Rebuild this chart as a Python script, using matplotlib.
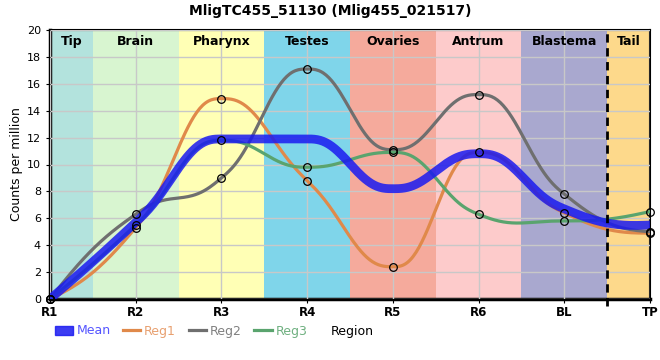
import numpy as np
import matplotlib
matplotlib.use("Agg")
import matplotlib.pyplot as plt
from matplotlib.lines import Line2D
from matplotlib.patches import Patch

title = "MligTC455_51130 (Mlig455_021517)"
regions = ["R1", "R2", "R3", "R4", "R5", "R6", "BL", "TP"]
mean = [0.0, 5.7, 11.9, 11.9, 8.2, 10.8, 6.7, 5.5]
reg1 = [0.0, 5.3, 14.9, 8.8, 2.4, 10.9, 6.4, 4.9]
reg2 = [0.0, 6.3, 9.0, 17.1, 11.1, 15.2, 7.8, 5.0]
reg3 = [0.0, 5.5, 11.8, 9.8, 10.9, 6.3, 5.8, 6.5]

bands = ["Tip", "Brain", "Pharynx", "Testes", "Ovaries", "Antrum", "Blastema", "Tail"]
band_edges = [0, 0.5, 1.5, 2.5, 3.5, 4.5, 5.5, 6.5, 7]
band_colors = ["#b3e3dd", "#d8f5d0", "#ffffb5", "#7fd5ea",
               "#f5aa9c", "#fdcbcb", "#a9a8cf", "#fdd98b"]


def smooth(y, n=60):
    # quintic hermite through the points, flat at extrema
    y = np.asarray(y, float)
    k = len(y)
    m = np.zeros(k)
    for i in range(1, k - 1):
        d1 = y[i] - y[i - 1]
        d2 = y[i + 1] - y[i]
        if d1 * d2 > 0:
            m[i] = (y[i + 1] - y[i - 1]) / 2
    m[0] = 2 * (y[1] - y[0]) - m[1]
    m[-1] = 2 * (y[-1] - y[-2]) - m[-2]
    xs, ys = [], []
    t = np.linspace(0, 1, n)
    h0 = 1 - 10 * t**3 + 15 * t**4 - 6 * t**5
    h1 = t - 6 * t**3 + 8 * t**4 - 3 * t**5
    h3 = -4 * t**3 + 7 * t**4 - 3 * t**5
    for i in range(k - 1):
        seg = h0 * y[i] + (1 - h0) * y[i + 1] + h1 * m[i] + h3 * m[i + 1]
        xs.extend(i + t)
        ys.extend(seg)
    return np.array(xs), np.array(ys)


fig = plt.figure(figsize=(6.6, 3.6), dpi=100)
ax = fig.add_axes([50 / 660, 1 - 299 / 360, 600 / 660, 269 / 360])

for i, name in enumerate(bands):
    ax.axvspan(band_edges[i], band_edges[i + 1], color=band_colors[i], zorder=0, lw=0)
    ax.text((band_edges[i] + band_edges[i + 1]) / 2, 19.6, name, ha="center", va="top",
            fontsize=9, fontweight="bold", zorder=5)

ax.grid(True, color="#c8c8c8", lw=1, zorder=1)
ax.set_axisbelow(False)

x = np.arange(len(regions))
ax.plot(*smooth(reg1), color="#e0894a", lw=2.3, zorder=3)
ax.plot(*smooth(reg2), color="#6f6f6f", lw=2.3, zorder=3)
ax.plot(*smooth(reg3), color="#5aa46e", lw=2.3, zorder=3)
ax.plot(*smooth(mean), color="#1a1af0", lw=6.3, alpha=0.85, zorder=4, solid_capstyle="butt")
for s in [reg1, reg2, reg3]:
    ax.plot(x, s, ls="none", marker="o", ms=5.5, mfc="none", mec="black", mew=0.9,
            zorder=6, clip_on=False)

ax.axvline(6.5, ymin=-0.025, ymax=1, color="black", lw=2, ls=(0, (3, 2)), zorder=6,
           clip_on=False)

ax.set_xlim(0, 7)
ax.set_ylim(0, 20)
ax.set_xticks(x)
ax.set_xticklabels(regions, fontweight="bold", fontsize=8.5)
ax.set_yticks(range(0, 21, 2))
ax.tick_params(axis="y", labelsize=8, length=3)
ax.tick_params(axis="x", length=3, pad=2)
ax.set_ylabel("Counts per million", fontsize=9)
ax.yaxis.set_label_coords(-0.045, 0.5)

for side in ["left", "bottom"]:
    ax.spines[side].set_linewidth(2.5)
for side in ["top", "right"]:
    ax.spines[side].set_linewidth(1.5)

fig.suptitle(title, x=0.5, y=0.99, fontsize=10, fontweight="bold")

handles = [Patch(color="#1a1af0", alpha=0.85),
           Line2D([], [], color="#e0894a", lw=2.3),
           Line2D([], [], color="#6f6f6f", lw=2.3),
           Line2D([], [], color="#5aa46e", lw=2.3)]
leg = fig.legend(handles, ["Mean", "Reg1", "Reg2", "Reg3"], loc="center left",
                 bbox_to_anchor=(55 / 660, 1 - 331 / 360), ncol=4, frameon=False,
                 fontsize=9, handlelength=1.4, handletextpad=0.3, columnspacing=1.0,
                 borderaxespad=0, borderpad=0)
for txt, c in zip(leg.get_texts(), ["#5555ff", "#e8a070", "#808080", "#6fb080"]):
    txt.set_color(c)
fig.text(331 / 660, 1 - 331 / 360, "Region", fontsize=9, va="center", ha="left")

plt.savefig("out.png", dpi=100)
